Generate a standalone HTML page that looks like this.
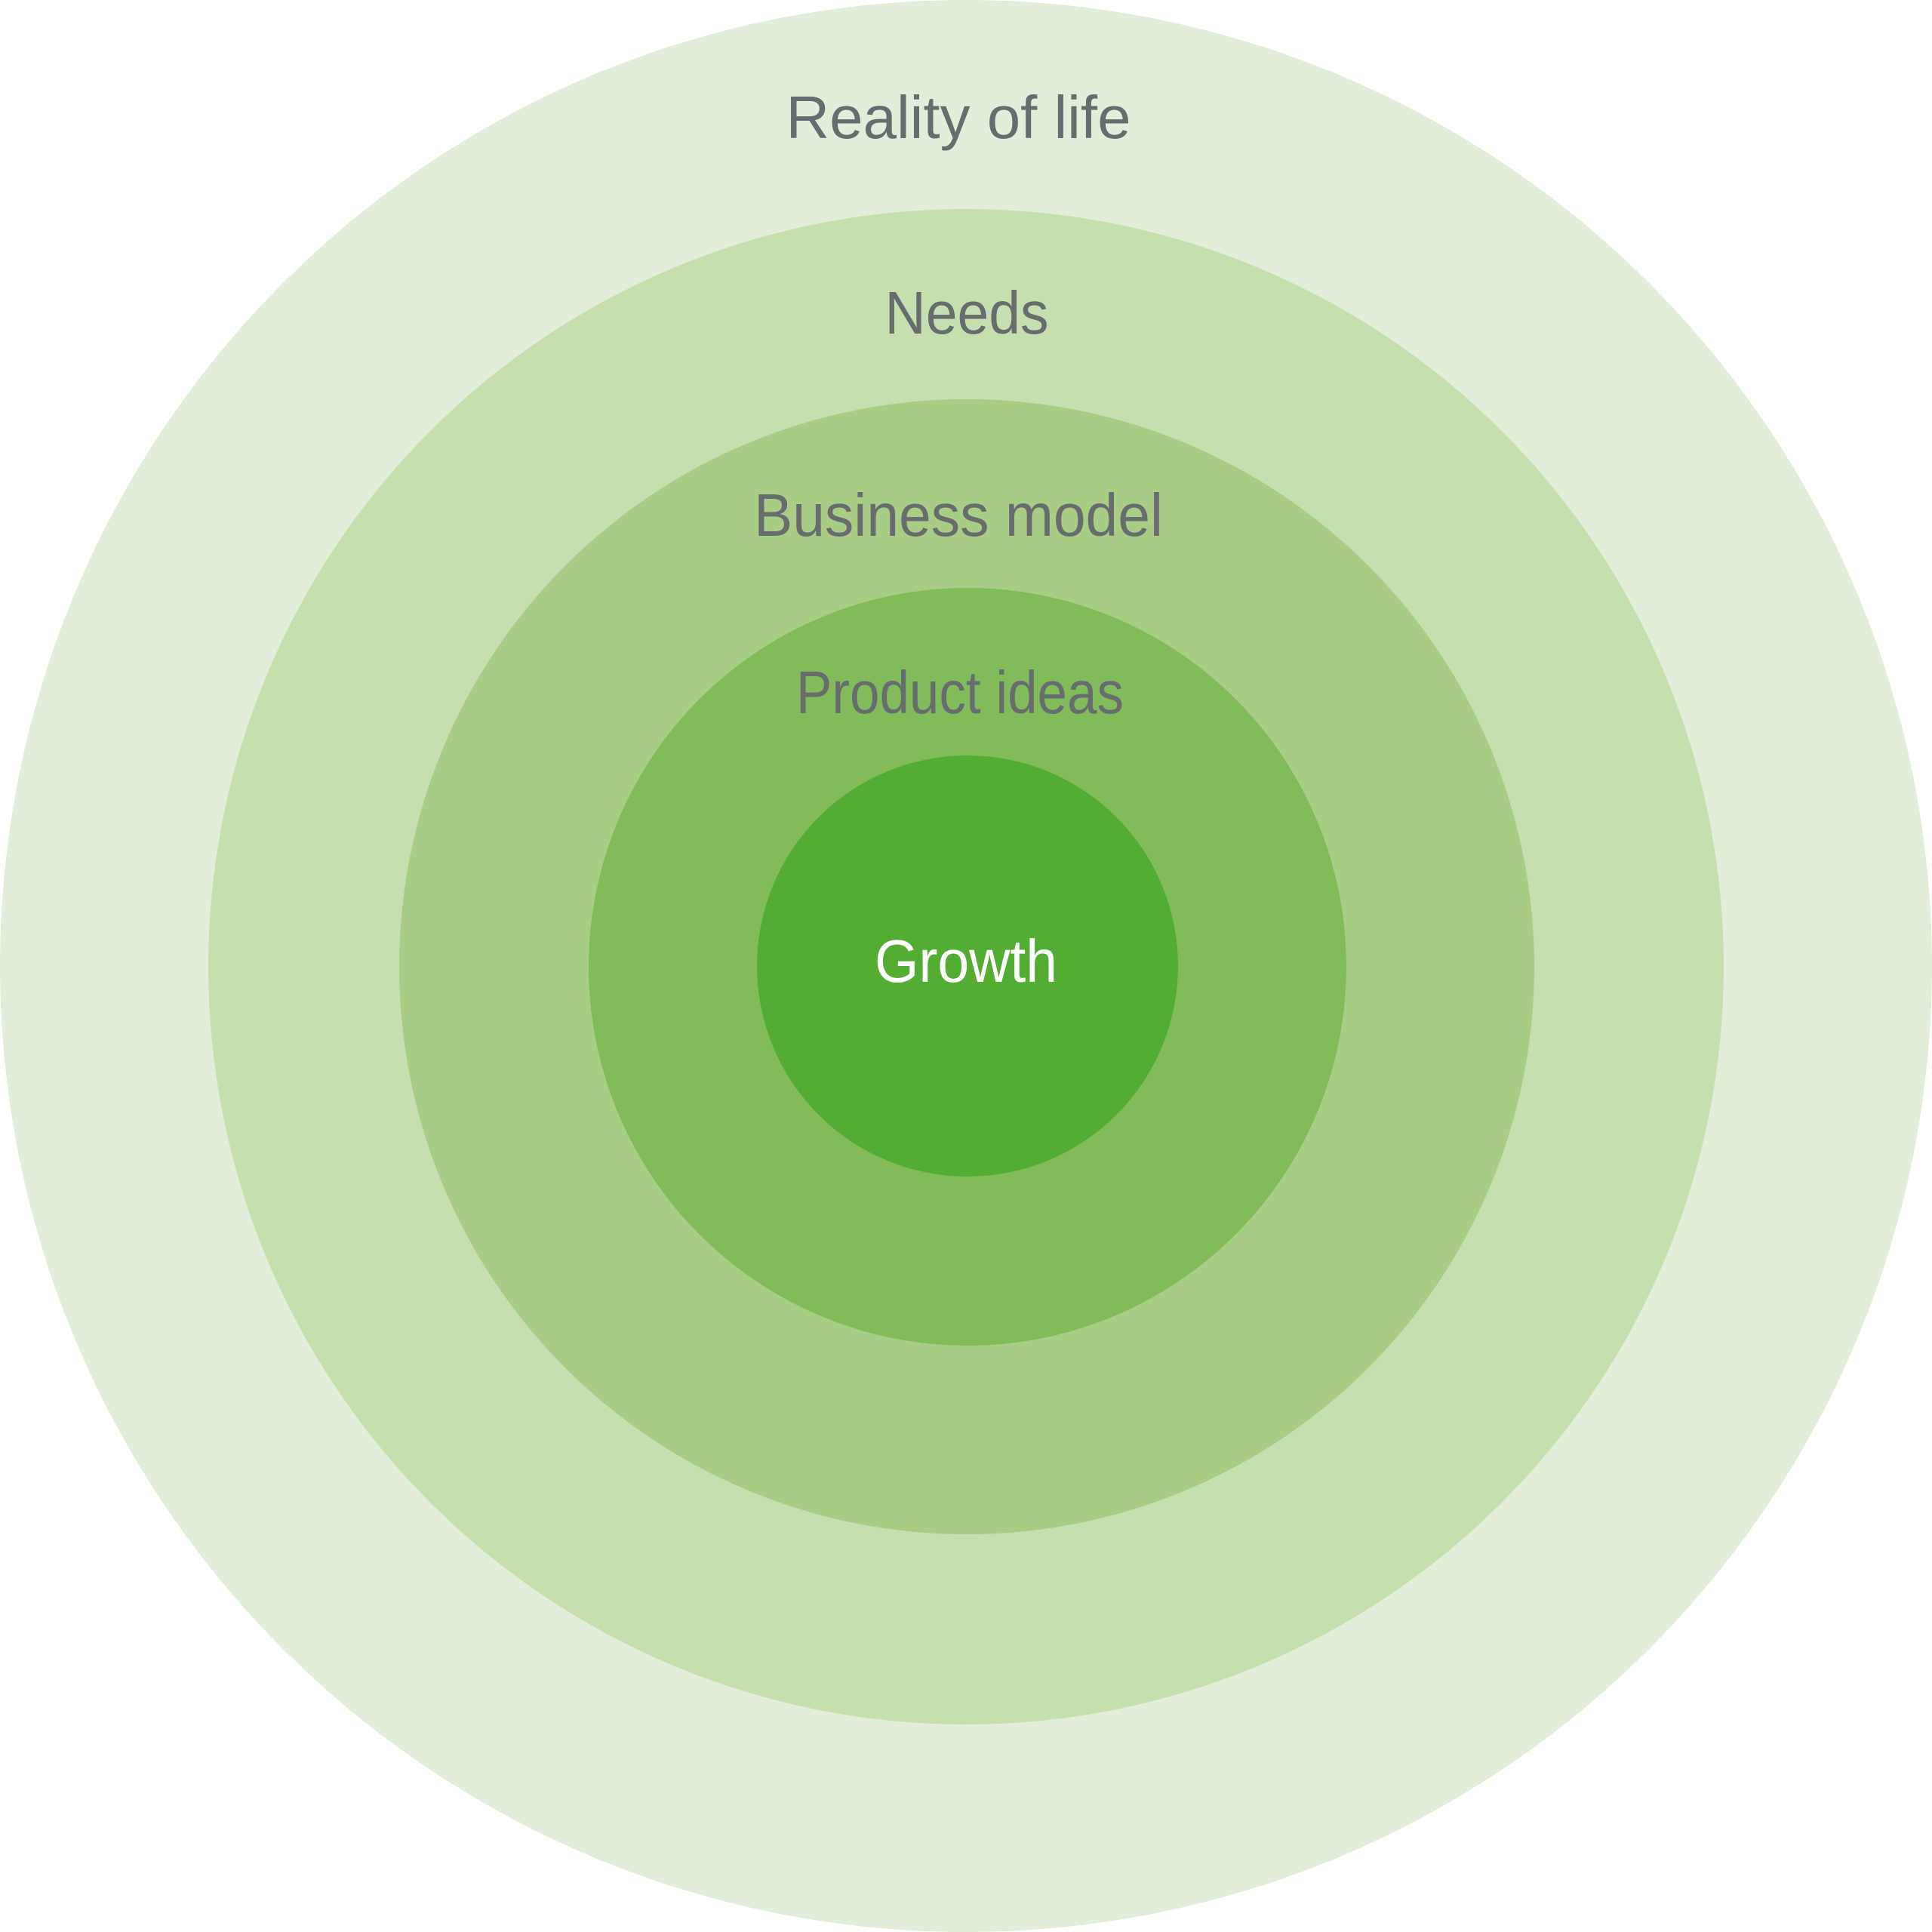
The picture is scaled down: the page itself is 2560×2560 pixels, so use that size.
<!DOCTYPE html>
<html><head><meta charset="utf-8"><style>html,body{margin:0;padding:0;background:#fff}svg{display:block}</style></head>
<body>
<svg width="2560" height="2560" viewBox="0 0 2560 2560" xmlns="http://www.w3.org/2000/svg">
<circle cx="1280" cy="1280" r="1280" fill="#e2eed9"/>
<circle cx="1280" cy="1281" r="1004" fill="#c6dfae"/>
<circle cx="1281" cy="1281" r="752" fill="#a8cd85"/>
<circle cx="1282" cy="1281" r="502" fill="#82bc5a"/>
<circle cx="1282" cy="1280" r="279" fill="#53ad32"/>
<g font-family="Liberation Sans, sans-serif" font-size="80" fill="#676c6e" text-anchor="middle">
<text x="1270" y="183" textLength="457" lengthAdjust="spacingAndGlyphs">Reality of life</text>
<text x="1281" y="442" textLength="217" lengthAdjust="spacingAndGlyphs">Needs</text>
<text x="1270" y="710" textLength="542" lengthAdjust="spacingAndGlyphs">Business model</text>
<text x="1272" y="945" textLength="434" lengthAdjust="spacingAndGlyphs">Product ideas</text>
<text x="1280" y="1301" fill="#ffffff" textLength="242" lengthAdjust="spacingAndGlyphs">Growth</text>
</g>
</svg>
</body></html>
